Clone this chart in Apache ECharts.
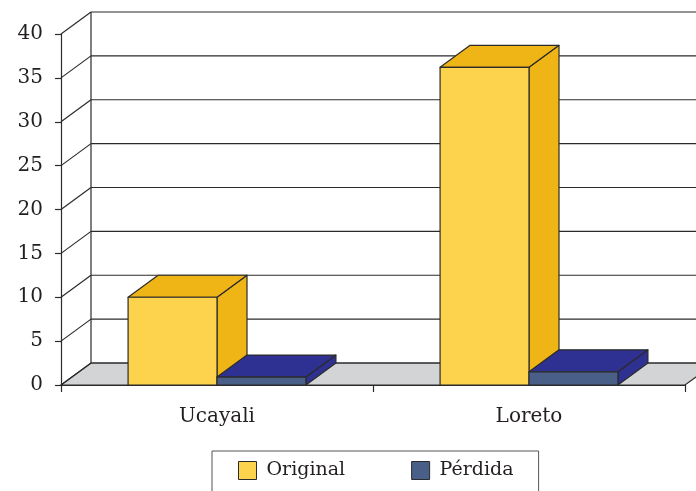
<!DOCTYPE html>
<html>
<head>
<meta charset="utf-8">
<script src="https://cdn.jsdelivr.net/npm/echarts@6/dist/echarts.min.js"></script>
<style>
  html, body { margin: 0; padding: 0; background: #fff; }
  #chart { width: 696px; height: 491px; }
</style>
</head>
<body>
<div id="chart"></div>
<script>
// Regions and their values
const categories = ['Ucayali', 'Loreto'];
const originalValues = [10, 36.2];
const perdidaValues = [0.9, 1.5];
const yTickValues = [0, 5, 10, 15, 20, 25, 30, 35, 40];

// Pseudo-3D depth offset (pixels) and bar width as a fraction of a category band
const DEPTH_X = 30;
const DEPTH_Y = -22;
const BAR_FRACTION = 0.285;
const LINE = '#2b2b2b';
const FONT = 'DejaVu Serif';

const colors = {
  original: { front: '#FDD34D', top: '#EFB415', side: '#EFB415' },
  perdida: { front: '#4A5F88', top: '#2E3192', side: '#2E3192' }
};

const chart = echarts.init(document.getElementById('chart'), null, { renderer: 'canvas' });

// Back wall, floor and depth connectors drawn at each y tick
function renderWall(params, api) {
  const cs = params.coordSys;
  const t = api.value(0);
  const y = api.coord([0, t])[1];
  const children = [];
  const x0 = cs.x, x1 = cs.x + cs.width;
  if (t === yTickValues[0]) {
    const yTop = api.coord([0, yTickValues[yTickValues.length - 1]])[1];
    children.push({
      type: 'polygon',
      shape: { points: [[x0, y], [x0 + DEPTH_X, y + DEPTH_Y], [x1 + DEPTH_X, y + DEPTH_Y], [x1, y]] },
      style: { fill: '#D3D4D6', stroke: LINE, lineWidth: 1.2 }
    });
    children.push({
      type: 'line',
      shape: { x1: x0 + DEPTH_X, y1: y + DEPTH_Y, x2: x0 + DEPTH_X, y2: yTop + DEPTH_Y },
      style: { stroke: LINE, lineWidth: 1.2 }
    });
  }
  children.push({
    type: 'line',
    shape: { x1: x0, y1: y, x2: x0 + DEPTH_X, y2: y + DEPTH_Y },
    style: { stroke: LINE, lineWidth: 1.2 }
  });
  children.push({
    type: 'line',
    shape: { x1: x0 + DEPTH_X, y1: y + DEPTH_Y, x2: x1 + DEPTH_X, y2: y + DEPTH_Y },
    style: { stroke: LINE, lineWidth: 1.2 }
  });
  return { type: 'group', children: children };
}

// A 3D box for one bar; side = -1 places it left of the category centre, 0 right of it
function makeBarRenderer(palette, side) {
  return function (params, api) {
    const cat = api.value(0);
    const v = api.value(1);
    const base = api.coord([cat, 0]);
    const top = api.coord([cat, v]);
    const band = api.size([1, 0])[0];
    const w = band * BAR_FRACTION;
    const x0 = base[0] + side * w;
    const x1 = x0 + w;
    const yb = base[1], yt = top[1];
    const border = { stroke: LINE, lineWidth: 1.2, lineJoin: 'round' };
    return {
      type: 'group',
      children: [
        {
          type: 'polygon',
          shape: { points: [[x1, yt], [x1 + DEPTH_X, yt + DEPTH_Y], [x1 + DEPTH_X, yb + DEPTH_Y], [x1, yb]] },
          style: Object.assign({ fill: palette.side }, border)
        },
        {
          type: 'polygon',
          shape: { points: [[x0, yt], [x0 + DEPTH_X, yt + DEPTH_Y], [x1 + DEPTH_X, yt + DEPTH_Y], [x1, yt]] },
          style: Object.assign({ fill: palette.top }, border)
        },
        {
          type: 'rect',
          shape: { x: x0, y: yt, width: w, height: yb - yt },
          style: Object.assign({ fill: palette.front }, border)
        }
      ]
    };
  };
}

const option = {
  animation: false,
  backgroundColor: '#ffffff',
  grid: { left: 61, right: 11, top: 34, bottom: 106 },
  legend: {
    left: 212,
    top: 451,
    itemWidth: 18,
    itemHeight: 18,
    itemGap: 66,
    padding: [10, 25, 14, 26],
    borderColor: '#555',
    borderWidth: 1,
    selectedMode: false,
    textStyle: { fontFamily: FONT, fontSize: 19, color: '#231f20', padding: [0, 0, 0, 5] },
    data: [
      { name: 'Original', icon: 'rect', itemStyle: { color: colors.original.front, borderColor: LINE, borderWidth: 1 } },
      { name: 'Pérdida', icon: 'rect', itemStyle: { color: colors.perdida.front, borderColor: LINE, borderWidth: 1 } }
    ]
  },
  xAxis: {
    type: 'category',
    data: categories,
    boundaryGap: true,
    axisLine: { show: true, lineStyle: { color: LINE, width: 1.2 } },
    axisTick: { show: true, length: 7, lineStyle: { color: LINE, width: 1.2 } },
    axisLabel: { fontFamily: FONT, fontSize: 20, color: '#231f20', margin: 22 },
    splitLine: { show: false },
    z: 5
  },
  yAxis: {
    type: 'value',
    min: 0,
    max: 40,
    interval: 5,
    axisLine: { show: true, lineStyle: { color: LINE, width: 1.2 } },
    axisTick: { show: true, length: 6, lineStyle: { color: LINE, width: 1.2 } },
    axisLabel: { fontFamily: FONT, fontSize: 20, color: '#231f20', margin: 18 },
    splitLine: { show: false },
    z: 5
  },
  series: [
    {
      name: 'wall',
      type: 'custom',
      silent: true,
      clip: false,
      z: 1,
      renderItem: renderWall,
      encode: { y: 0 },
      data: yTickValues.map(function (t) { return [t]; })
    },
    {
      name: 'Original',
      type: 'custom',
      z: 3,
      clip: false,
      itemStyle: { color: colors.original.front },
      renderItem: makeBarRenderer(colors.original, -1),
      encode: { x: 0, y: 1 },
      data: categories.map(function (c, i) { return [i, originalValues[i]]; })
    },
    {
      name: 'Pérdida',
      type: 'custom',
      z: 4,
      clip: false,
      itemStyle: { color: colors.perdida.front },
      renderItem: makeBarRenderer(colors.perdida, 0),
      encode: { x: 0, y: 1 },
      data: categories.map(function (c, i) { return [i, perdidaValues[i]]; })
    }
  ]
};

chart.setOption(option);
</script>
</body>
</html>
